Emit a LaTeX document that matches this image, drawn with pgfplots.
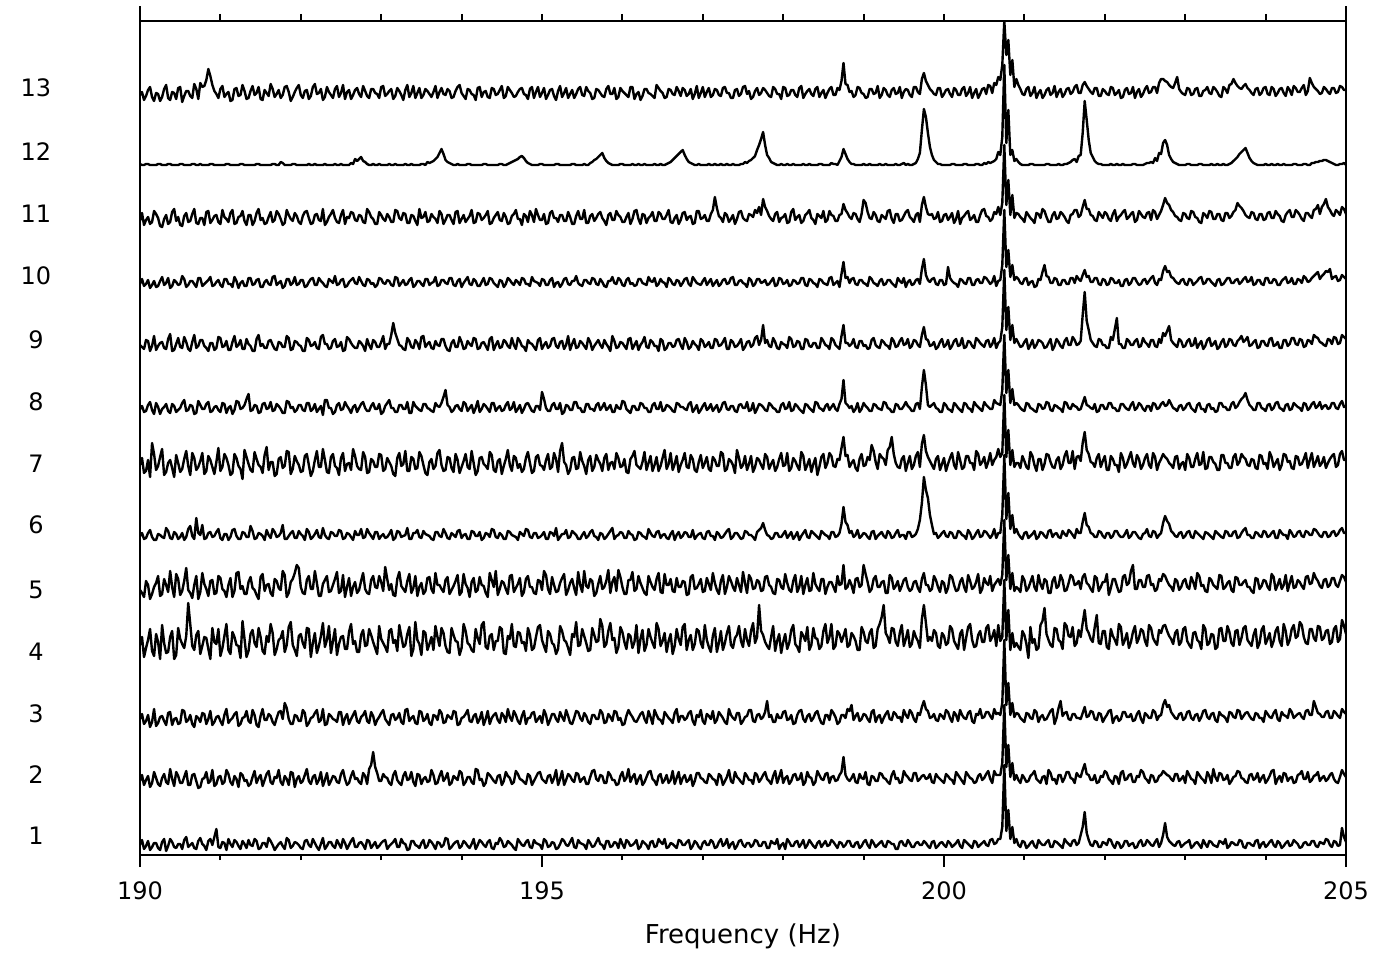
\documentclass[border=0pt]{standalone}
\usepackage{fontspec}
\setmainfont{DejaVu Sans}
\usepackage{pgfplots}
\usepackage{pgfplotstable}
\pgfplotsset{compat=1.18}

% 13 stacked spectra, heights in plot units (one trace every ~62 units)
\pgfplotstableread{
f t1 t2 t3 t4 t5 t6 t7 t8 t9 t10 t11 t12 t13
190.00 10 74 136 210 265 319 390 446 510 571 634 691 760
190.025 15 80 141 218 262 322 397 449 508 576 642 690 763
190.05 6 70 131 198 258 316 382 443 506 569 630 690 755
190.075 9 75 134 207 274 317 384 444 515 571 635 691 759
190.10 14 79 140 215 270 322 395 450 514 575 638 691 765
190.125 5 68 128 226 256 325 378 453 504 567 631 690 768
190.15 8 72 133 204 261 318 412 445 509 570 633 690 758
190.175 12 83 146 199 268 315 401 441 519 574 644 690 754
190.20 12 77 129 221 272 315 385 452 505 568 641 690 762
190.225 7 71 132 213 279 321 389 448 509 569 637 691 761
190.25 5 69 138 196 259 320 398 441 512 574 629 691 754
190.275 13 77 139 230 261 318 406 446 513 578 628 690 758
190.30 16 81 134 212 276 317 380 448 507 570 636 690 766
190.325 4 73 130 202 270 327 383 451 506 572 640 690 770
190.35 9 71 142 203 263 324 392 444 516 577 631 691 757
190.375 16 86 143 218 284 317 395 442 521 567 633 691 755
190.40 13 76 130 224 268 316 387 451 504 569 643 690 763
190.425 8 69 136 196 258 323 378 449 505 575 646 690 762
190.45 7 83 137 200 281 321 400 443 511 573 634 690 756
190.475 11 79 131 227 276 316 392 445 517 570 638 690 767
190.50 11 72 132 216 260 318 383 447 508 571 630 691 768
190.525 6 72 145 211 264 322 386 452 507 579 629 691 753
190.55 15 78 144 207 274 315 396 455 518 576 639 690 759
190.575 18 84 133 219 287 318 404 444 513 568 642 690 764
190.60 8 70 135 252 265 326 389 445 506 570 633 690 764
190.625 10 70 140 231 262 329 380 450 504 574 634 690 759
190.65 12 80 131 209 257 319 402 449 513 574 641 691 757
190.675 7 81 128 205 270 316 397 441 520 571 646 691 771
190.70 6 74 139 220 279 337 385 442 507 568 632 690 766
190.725 14 67 137 224 256 322 388 454 509 577 631 690 756
190.75 17 68 133 201 263 320 394 450 515 577 637 691 772
190.775 11 76 142 209 282 330 402 446 515 569 637 690 768
190.80 9 77 141 218 271 316 381 446 509 571 630 690 769
190.825 5 83 131 217 266 317 384 451 507 573 643 690 775
190.85 14 72 136 206 259 322 399 453 504 575 644 690 786
190.875 16 74 144 196 274 323 395 443 512 578 632 691 779
190.90 10 85 130 227 275 318 388 444 512 569 635 691 770
190.925 18 69 133 213 261 319 381 448 505 570 639 690 764
190.95 26 71 138 211 262 323 393 449 507 573 640 690 761
190.975 8 78 139 226 279 326 407 445 518 575 633 690 757
191.00 7 79 134 199 277 317 384 443 517 570 631 690 766
191.025 13 71 130 207 266 315 388 452 508 568 645 690 769
191.05 12 73 140 219 264 321 401 451 509 576 638 690 758
191.075 5 85 146 231 258 321 397 442 514 576 636 691 761
191.10 16 81 132 205 270 315 390 447 505 571 633 691 763
191.125 11 73 135 201 277 318 380 449 505 571 642 690 754
191.15 8 70 137 223 258 325 382 441 513 568 645 690 755
191.175 15 79 141 218 264 326 401 445 519 578 631 690 766
191.20 13 76 143 210 282 319 397 454 508 574 632 690 767
191.225 9 68 129 209 283 316 389 453 510 567 638 690 759
191.25 6 82 131 197 266 316 386 446 515 572 639 691 760
191.275 14 80 137 234 269 323 376 447 506 574 644 691 770
191.30 11 74 138 216 261 322 405 450 506 569 634 690 764
191.325 7 75 144 198 261 318 398 456 516 569 630 690 756
191.35 15 69 134 204 273 318 391 461 511 577 640 690 757
191.375 10 71 132 221 278 329 385 444 509 577 640 690 764
191.40 9 78 145 225 267 324 383 445 504 570 630 690 769
191.425 16 84 140 212 265 316 403 450 504 571 634 690 760
191.45 14 72 130 208 260 317 396 449 516 575 642 691 762
191.475 6 77 128 227 256 322 390 442 520 576 646 691 768
191.50 7 80 139 218 278 321 388 443 509 568 635 690 756
191.525 12 69 146 204 281 319 382 451 511 568 637 690 755
191.55 12 75 135 201 264 315 400 452 507 573 631 690 765
191.575 8 81 135 219 270 325 408 446 507 575 632 690 762
191.60 17 84 141 213 271 320 385 447 514 571 638 690 759
191.625 14 73 139 231 262 317 393 453 515 570 643 690 771
191.65 10 71 133 222 259 326 393 444 510 578 633 691 766
191.675 5 78 130 200 276 323 379 445 506 579 635 691 758
191.70 8 77 137 206 274 318 381 451 505 570 644 690 761
191.725 11 85 143 215 267 319 396 449 513 572 641 690 765
191.75 13 73 144 217 265 322 398 446 512 574 636 693 757
191.775 9 70 136 224 284 330 387 442 508 567 630 692 760
191.80 6 79 152 203 280 316 389 442 508 569 632 690 768
191.825 17 76 147 210 258 316 404 454 519 576 645 690 769
191.85 15 70 136 228 262 319 403 453 517 576 640 690 763
191.875 7 83 131 233 273 322 381 447 505 570 636 690 754
191.90 9 82 131 210 276 324 386 448 506 572 634 691 758
191.925 13 68 140 205 282 317 399 443 514 578 642 691 763
191.95 12 76 139 199 290 317 394 445 513 570 639 690 767
191.975 10 79 134 219 287 324 390 450 510 571 633 690 770
192.00 7 72 134 221 268 321 383 450 509 575 631 690 760
192.025 6 74 145 212 262 319 384 445 504 575 639 690 757
192.05 14 80 142 207 261 315 399 444 504 568 643 690 764
192.075 15 86 129 227 275 326 401 452 517 569 644 690 765
192.10 10 74 132 226 279 323 390 452 515 573 637 691 756
192.125 8 71 137 198 266 316 379 444 509 576 631 690 759
192.15 16 78 138 212 266 318 384 446 510 577 632 690 768
192.175 12 80 142 222 284 321 395 451 513 570 640 691 771
192.20 8 71 145 202 272 325 404 443 507 570 641 690 761
192.225 5 75 133 209 259 318 388 446 506 577 635 690 762
192.25 11 83 135 219 259 317 388 449 518 574 634 690 766
192.275 17 69 146 232 271 327 406 440 520 572 646 690 755
192.30 6 75 130 208 275 320 395 455 511 569 630 691 758
192.325 9 82 131 215 279 317 383 455 511 568 633 690 768
192.35 13 70 141 229 263 316 382 447 506 576 638 690 763
192.375 13 74 139 202 264 323 398 447 507 574 641 690 760
192.40 9 79 136 214 270 322 401 441 514 572 645 690 757
192.425 7 78 135 226 276 319 389 443 516 579 637 691 766
192.45 15 73 133 200 283 319 387 450 508 570 633 690 769
192.475 11 72 143 211 262 325 380 452 509 571 632 690 758
192.50 7 81 143 218 264 324 397 445 513 575 640 691 762
192.525 16 85 130 219 280 316 402 446 504 576 645 690 770
192.55 12 76 137 206 258 317 384 453 505 568 631 690 756
192.575 6 70 141 206 268 322 391 449 518 569 638 690 763
192.60 10 72 131 223 277 321 392 446 516 573 637 690 765
192.625 14 79 136 231 259 318 385 442 512 575 643 692 756
192.65 17 84 140 211 268 315 406 448 509 577 642 691 760
192.675 8 76 144 214 273 324 399 450 507 572 635 696 765
192.70 8 77 134 203 262 320 389 443 507 571 634 694 767
192.725 12 73 132 203 265 320 386 447 514 578 640 696 761
192.75 13 71 138 220 274 326 385 451 512 574 639 698 758
192.775 10 82 140 225 282 317 403 453 509 570 633 694 769
192.80 6 79 144 209 266 318 398 447 504 569 632 693 764
192.825 15 71 134 210 262 326 382 444 516 576 646 691 759
192.85 14 86 132 226 261 322 383 444 510 575 643 690 757
192.875 7 90 143 220 275 319 396 449 506 571 638 690 766
192.90 10 103 139 213 279 316 394 452 515 572 636 691 766
192.925 13 88 130 207 268 323 388 446 513 568 631 690 762
192.95 7 82 135 201 267 323 388 446 508 570 631 690 761
192.975 9 74 138 229 279 316 401 451 508 577 643 691 757
193.00 12 74 142 216 273 319 400 441 513 576 640 690 768
193.025 14 81 145 212 264 321 384 443 519 572 636 690 769
193.05 15 78 136 208 288 317 386 449 506 571 634 690 759
193.075 6 77 133 203 276 318 397 452 511 575 641 690 761
193.10 9 72 130 224 265 321 393 455 511 574 638 691 764
193.125 11 70 140 226 271 325 389 447 520 570 633 690 766
193.15 13 80 141 212 260 315 381 447 532 569 633 690 756
193.175 16 84 135 215 259 317 379 443 522 578 645 691 759
193.20 8 75 137 204 276 324 397 443 516 577 644 690 767
193.225 8 72 142 230 283 323 402 450 510 569 637 690 764
193.25 16 70 133 219 269 318 389 450 509 572 635 690 760
193.275 12 79 131 208 266 319 391 446 506 575 642 690 755
193.30 11 83 145 210 263 320 404 446 505 570 641 691 765
193.325 5 75 146 221 274 327 384 453 517 571 632 690 770
193.35 6 76 134 228 281 316 384 442 514 575 632 690 758
193.375 14 83 137 199 262 316 398 442 508 577 640 691 762
193.40 14 73 139 206 267 322 396 453 507 568 639 690 769
193.425 10 69 132 233 279 322 386 449 515 570 634 690 757
193.45 9 81 131 215 259 325 387 447 512 574 630 690 762
193.475 7 80 144 211 268 318 403 445 506 574 646 690 767
193.50 12 71 143 200 272 317 399 444 518 571 637 691 757
193.525 15 76 134 224 261 324 390 451 519 569 638 691 760
193.55 7 78 136 222 264 321 382 451 508 576 643 690 766
193.575 9 73 141 205 277 320 380 447 511 576 633 693 764
193.60 15 74 132 211 278 319 393 446 513 570 634 692 761
193.625 13 85 130 218 266 316 396 444 507 572 641 693 758
193.65 10 80 140 205 262 315 386 443 506 573 638 694 763
193.675 6 71 139 229 282 323 389 452 514 578 636 696 769
193.70 13 72 135 218 270 323 402 449 510 569 632 698 757
193.725 12 79 145 209 270 319 405 448 509 570 644 702 763
193.75 8 84 142 227 266 318 390 452 516 575 641 706 767
193.775 10 74 132 222 263 326 384 458 516 575 631 701 761
193.80 17 77 133 209 275 322 385 465 509 572 635 695 760
193.825 16 82 140 203 278 317 398 450 505 571 640 693 766
193.85 6 70 138 202 261 316 397 448 504 577 640 692 764
193.875 8 72 136 227 265 322 387 443 512 577 635 691 757
193.90 11 79 144 220 269 320 383 445 515 570 631 690 758
193.925 13 77 143 214 274 318 401 449 508 569 643 690 764
193.95 14 75 130 213 280 324 395 450 508 574 644 691 768
193.975 7 84 131 200 260 325 382 446 518 576 632 690 770
194.00 9 82 137 207 263 317 388 444 513 568 636 690 762
194.025 14 70 138 231 281 320 394 453 506 572 640 690 759
194.05 12 73 141 224 271 321 401 451 507 575 633 690 756
194.075 9 78 145 212 267 316 388 444 514 578 636 691 766
194.10 7 78 134 210 258 316 386 447 511 571 639 691 765
194.125 11 73 133 205 273 324 404 450 509 570 645 690 761
194.15 16 71 139 203 277 323 392 442 517 576 632 690 760
194.175 6 86 141 226 263 319 380 447 516 574 633 690 755
194.20 10 85 132 217 265 319 384 454 506 569 642 690 767
194.225 15 75 136 211 278 323 397 443 507 569 641 690 768
194.25 13 76 143 230 270 315 398 446 512 573 635 690 758
194.275 10 69 130 233 269 317 391 451 513 577 637 691 763
194.30 8 72 136 208 262 322 389 449 509 570 640 691 764
194.325 13 82 144 206 258 321 386 446 505 571 644 690 758
194.35 15 80 131 219 282 318 403 443 516 577 631 690 757
194.375 7 77 137 221 275 326 400 452 518 576 632 690 767
194.40 6 74 140 205 268 325 385 452 505 572 637 690 766
194.425 12 72 142 214 284 318 383 444 510 570 640 690 760
194.45 11 79 135 214 260 317 394 447 514 568 643 690 761
194.475 17 80 132 228 266 322 396 449 507 575 635 691 765
194.50 14 70 142 226 274 320 381 444 508 574 634 691 769
194.525 8 74 139 202 272 316 389 445 515 568 642 690 757
194.55 9 83 133 201 266 316 396 450 513 571 638 690 759
194.575 14 79 146 219 261 324 405 453 509 577 631 691 768
194.60 12 77 138 216 279 323 390 445 507 575 632 692 765
194.625 10 71 134 231 280 320 384 447 517 572 639 693 762
194.65 7 73 144 209 263 319 399 453 510 570 641 694 758
194.675 5 84 140 208 267 318 397 443 506 575 645 695 759
194.70 16 81 134 223 271 315 387 446 517 573 636 696 763
194.725 13 76 131 222 277 323 391 450 514 570 636 698 766
194.75 10 75 139 212 259 321 383 442 509 577 630 699 767
194.775 9 73 144 213 263 319 386 446 508 576 641 697 761
194.80 13 71 131 204 276 326 397 451 504 571 639 694 760
194.825 15 81 137 227 279 325 403 452 515 571 633 692 756
194.85 8 79 137 220 268 318 392 448 512 569 644 691 766
194.875 7 70 142 205 268 317 382 444 511 578 640 690 768
194.90 15 74 143 207 262 322 384 443 508 574 633 690 757
194.925 12 78 133 218 261 322 398 449 505 573 646 690 763
194.95 11 82 136 228 275 317 400 449 515 572 640 690 768
194.975 10 83 139 230 274 318 390 445 517 569 635 691 758
195.00 6 76 132 215 265 320 389 463 506 576 635 691 762
195.025 16 74 145 209 284 323 385 456 510 575 641 690 767
195.05 14 72 140 203 280 316 395 447 513 570 631 690 756
195.075 8 79 130 224 266 316 401 444 507 570 632 690 760
195.10 9 80 135 221 261 323 386 444 509 575 642 690 765
195.125 13 72 141 212 278 322 388 450 516 577 644 690 766
195.15 12 77 141 210 270 319 402 452 517 568 637 690 759
195.175 6 85 136 201 263 327 396 446 509 572 637 691 755
195.20 7 70 133 206 264 315 383 446 507 573 633 691 764
195.225 11 76 143 229 272 318 404 452 513 568 640 690 769
195.25 16 84 138 224 277 321 412 441 514 571 640 690 758
195.275 14 70 134 215 281 321 393 443 506 576 634 690 762
195.30 10 75 145 213 260 325 390 450 510 577 634 690 767
195.325 9 81 139 207 265 317 381 449 519 571 643 690 757
195.35 13 79 132 200 272 318 385 445 505 570 638 690 761
195.375 17 75 131 221 276 324 397 445 511 574 631 691 765
195.40 8 73 137 218 267 322 398 453 516 574 631 691 757
195.425 7 82 144 233 260 320 386 453 507 579 639 690 761
195.45 15 81 143 209 283 316 387 447 508 572 644 690 766
195.475 12 73 137 210 270 316 403 447 514 570 636 690 768
195.50 11 76 134 226 263 320 394 443 512 569 636 690 760
195.525 10 78 142 219 284 323 389 443 509 575 645 691 759
195.55 6 71 139 212 269 317 381 451 506 575 632 690 768
195.575 15 71 133 204 267 319 395 451 517 572 632 690 764
195.60 12 78 131 205 276 323 399 446 513 571 639 692 762
195.625 8 84 140 227 274 325 384 446 505 577 641 693 756
195.65 9 85 140 220 259 319 388 444 509 576 634 695 757
195.675 13 76 136 213 262 318 400 450 512 571 637 696 766
195.70 17 74 136 214 271 315 395 452 515 570 641 698 765
195.725 11 80 145 236 279 322 391 445 510 576 643 700 762
195.75 10 79 142 229 266 321 384 448 507 573 637 702 759
195.775 6 72 132 208 268 316 397 452 515 569 634 697 758
195.80 14 72 133 211 274 318 401 445 511 568 630 694 766
195.825 14 83 141 224 285 321 385 447 508 574 640 692 769
195.85 8 80 138 232 262 324 392 450 504 574 642 691 761
195.875 9 75 134 215 273 327 393 443 519 578 635 690 761
195.90 13 75 144 217 278 316 386 443 514 572 635 690 767
195.925 12 70 143 202 264 319 402 450 507 571 644 690 756
195.95 7 71 135 208 285 320 397 447 508 577 640 690 758
195.975 16 79 137 228 278 323 388 446 513 575 638 691 767
196.00 11 83 130 223 268 322 389 454 512 570 633 691 764
196.025 7 74 131 213 261 317 396 453 509 569 633 690 762
196.05 15 77 139 206 261 317 383 446 506 575 638 690 760
196.075 13 86 145 221 275 324 382 444 516 577 642 690 758
196.10 9 73 141 219 275 321 396 442 517 571 631 690 768
196.125 10 78 138 207 283 320 399 449 506 572 636 691 768
196.15 12 81 134 213 264 315 404 449 510 569 644 690 756
196.175 15 71 133 230 266 316 390 445 514 570 645 690 761
196.20 6 76 137 202 279 323 388 445 505 576 636 691 763
196.225 8 80 141 216 272 322 386 452 510 576 631 690 755
196.25 14 70 143 225 267 319 393 451 513 572 641 690 759
196.275 12 73 136 204 262 318 403 447 518 571 640 691 766
196.30 10 78 132 210 260 316 385 447 508 570 632 690 766
196.325 6 83 144 226 279 326 392 443 507 578 637 690 762
196.35 13 84 138 218 273 322 399 443 515 574 639 690 761
196.375 14 76 131 212 268 319 384 450 513 573 643 690 759
196.40 8 74 145 207 265 318 390 452 509 577 634 691 757
196.425 9 70 140 232 276 323 398 446 509 569 634 690 770
196.45 16 79 136 226 282 324 384 446 504 571 643 690 767
196.475 13 81 135 209 263 317 389 453 516 576 641 691 764
196.50 11 72 131 214 262 320 397 444 514 573 636 690 762
196.525 16 75 143 222 281 321 405 445 505 572 636 690 757
196.55 7 80 140 203 270 317 386 450 507 568 640 691 758
196.575 8 72 137 214 270 316 391 449 512 577 645 692 766
196.60 12 75 135 221 276 321 402 447 512 575 633 693 765
196.625 11 84 132 201 264 324 385 444 508 571 632 695 761
196.65 9 71 142 209 263 315 391 443 509 570 637 697 760
196.675 7 77 146 226 277 320 399 452 515 575 640 699 768
196.70 15 83 133 216 268 323 383 451 516 574 631 701 764
196.725 14 71 139 210 268 317 390 448 510 569 635 703 759
196.75 10 77 139 228 274 319 395 448 506 572 642 705 767
196.775 10 80 135 231 273 323 402 446 517 576 643 700 765
196.80 13 73 137 205 260 322 388 445 513 577 635 696 759
196.825 15 75 142 215 261 318 387 451 506 571 638 693 761
196.85 6 80 144 220 278 318 400 453 508 569 639 692 766
196.875 9 69 134 205 280 325 396 443 514 578 631 691 756
196.90 14 74 130 211 266 316 385 446 511 575 632 690 761
196.925 12 82 140 226 267 319 383 450 509 572 644 690 769
196.95 8 82 138 224 271 321 393 442 505 571 644 691 757
196.975 6 77 145 212 276 322 400 445 516 570 636 690 762
197.00 12 76 134 207 263 317 387 449 514 574 637 690 768
197.025 14 73 131 230 264 316 392 452 508 577 640 690 758
197.05 10 72 141 215 277 323 398 445 510 570 634 690 763
197.075 10 81 139 208 271 324 386 447 513 573 634 691 767
197.10 15 79 136 203 265 319 384 451 507 576 641 690 758
197.125 13 76 144 219 282 319 398 444 507 569 645 690 760
197.15 7 75 132 227 272 315 395 447 516 572 658 691 766
197.175 8 70 135 203 265 323 389 450 515 575 647 690 765
197.20 13 81 143 212 261 321 389 443 509 569 639 690 760
197.225 16 79 140 224 274 317 403 446 510 571 637 691 759
197.25 9 70 137 205 280 318 401 452 513 575 633 690 767
197.275 11 74 133 212 261 321 384 453 517 576 642 690 768
197.30 16 78 131 222 268 324 386 446 506 571 640 691 762
197.325 7 85 146 229 279 326 396 445 506 572 633 690 762
197.35 11 74 140 210 274 316 394 449 515 577 636 690 757
197.375 13 72 137 207 268 318 390 449 513 578 640 691 757
197.40 6 83 135 217 264 322 382 444 508 570 631 690 765
197.425 9 78 142 220 277 322 405 443 509 570 636 690 766
197.45 14 76 142 229 270 319 397 450 512 574 643 690 759
197.475 15 73 131 214 263 316 387 451 516 575 644 691 761
197.50 10 71 134 208 283 317 390 447 505 572 637 691 768
197.525 8 82 138 226 272 324 399 447 508 571 635 693 769
197.55 12 79 139 215 262 323 385 453 513 568 634 692 761
197.575 12 75 145 209 280 320 391 444 514 577 641 694 764
197.60 8 75 145 224 276 320 399 445 508 575 640 695 756
197.625 10 71 134 232 266 318 383 452 510 569 638 697 758
197.65 15 82 133 212 267 315 388 442 517 571 645 699 764
197.675 14 80 140 218 275 323 397 446 519 576 642 705 767
197.70 9 73 141 250 273 325 395 451 510 576 648 710 760
197.725 9 76 136 224 264 327 390 450 515 572 640 716 762
197.75 13 80 138 220 265 332 386 448 530 573 656 723 767
197.775 13 83 143 213 278 325 401 445 512 575 648 710 765
197.80 7 76 154 209 279 320 398 444 515 570 644 700 762
197.825 7 74 138 206 270 319 386 452 509 571 639 697 759
197.85 14 71 140 218 268 316 391 450 508 574 636 693 758
197.875 12 79 133 229 262 317 395 447 517 577 634 692 768
197.90 11 84 133 204 261 322 384 446 513 569 641 691 766
197.925 16 72 141 214 276 322 388 443 507 570 643 690 761
197.95 6 78 137 221 275 318 396 443 506 577 633 690 761
197.975 10 85 137 202 268 318 402 450 513 576 637 691 756
198.00 12 72 143 213 266 321 389 452 511 571 638 690 768
198.025 6 77 144 221 281 324 390 446 510 572 641 690 767
198.05 16 79 135 206 272 317 402 447 507 575 632 691 759
198.075 13 71 136 212 265 320 384 453 518 569 633 690 760
198.10 9 74 140 225 263 323 387 444 516 570 643 690 765
198.125 9 80 131 230 274 316 397 445 508 575 646 691 765
198.15 13 81 132 211 280 319 394 451 509 574 635 690 760
198.175 14 75 140 208 263 323 389 449 514 571 638 690 758
198.20 8 76 144 203 268 315 385 446 513 572 640 690 767
198.225 11 82 145 223 279 319 403 444 506 577 632 690 769
198.25 15 70 136 219 261 322 399 442 506 577 634 691 757
198.275 7 73 133 214 270 325 385 451 516 570 640 690 761
198.30 10 83 139 228 277 318 390 450 515 569 642 690 764
198.325 15 78 141 205 264 317 396 447 509 576 645 691 766
198.35 12 77 134 210 265 324 383 445 508 575 637 690 761
198.375 9 70 137 227 282 322 391 443 512 572 635 690 759
198.40 7 73 142 217 271 320 397 453 512 571 631 690 766
198.425 12 84 144 216 267 318 380 452 507 568 641 690 768
198.45 14 80 137 206 264 316 388 447 507 576 639 691 758
198.475 8 76 132 209 276 324 398 446 517 575 637 691 762
198.50 11 75 131 224 276 322 401 444 514 572 644 690 765
198.525 14 81 140 231 261 320 387 449 510 571 633 690 757
198.55 9 82 140 212 268 319 392 451 509 570 635 690 762
198.575 10 72 135 218 273 316 402 445 506 577 644 690 766
198.60 15 78 145 231 273 323 399 448 517 578 640 692 768
198.625 13 79 142 206 268 323 389 451 515 570 639 691 760
198.65 10 74 138 209 263 318 388 446 510 572 634 691 760
198.675 7 75 131 224 279 319 396 444 508 574 634 690 767
198.70 13 80 133 221 270 322 395 451 506 568 640 694 765
198.725 12 83 140 213 271 331 407 456 519 581 641 698 774
198.75 8 98 140 219 290 348 418 475 530 593 651 706 792
198.775 10 80 137 226 266 333 399 452 512 577 645 701 771
198.80 14 76 146 208 268 330 400 450 512 578 642 696 770
198.825 14 74 144 210 275 322 388 447 509 572 638 693 763
198.85 9 77 150 222 270 324 392 449 511 576 636 691 764
198.875 8 81 135 219 262 318 395 443 516 577 642 691 758
198.90 12 73 139 214 276 320 387 446 508 571 641 690 760
198.925 13 72 142 205 277 325 384 452 507 570 636 690 768
198.95 7 81 134 205 268 317 396 443 514 575 633 690 767
198.975 9 77 136 228 270 319 401 446 514 575 641 690 762
199.00 13 76 141 223 290 322 389 452 509 572 655 691 761
199.025 15 83 140 214 281 321 390 449 510 571 652 690 757
199.05 10 71 136 212 273 318 398 447 506 569 643 690 758
199.075 7 70 133 222 263 316 395 444 507 578 637 691 766
199.10 15 79 143 226 266 323 410 444 515 576 636 690 766
199.125 12 78 145 207 276 324 404 451 517 572 643 690 761
199.15 8 74 133 209 279 316 393 450 510 571 640 690 762
199.175 10 74 138 226 268 319 386 447 508 569 634 690 769
199.20 12 82 140 231 268 321 401 446 507 574 633 691 757
199.225 14 81 132 238 273 323 398 445 515 576 640 690 760
199.25 9 77 137 250 274 319 396 453 513 570 638 690 767
199.275 8 76 141 222 262 317 390 452 510 571 636 691 765
199.30 14 73 144 218 262 324 405 447 509 575 644 690 760
199.325 13 71 136 212 280 322 408 446 506 575 645 690 758
199.35 11 80 135 227 277 317 418 443 517 572 636 690 765
199.375 11 84 143 226 266 318 401 443 514 570 632 690 767
199.40 6 76 141 213 269 322 392 451 508 568 641 691 761
199.425 6 77 137 209 274 325 388 450 509 577 641 690 762
199.45 13 72 138 222 264 318 387 446 514 574 634 690 768
199.475 14 73 133 230 269 320 396 446 517 572 635 691 757
199.50 10 84 145 209 275 320 399 449 510 577 639 692 763
199.525 9 80 140 216 277 316 384 453 511 568 643 690 766
199.55 15 78 137 225 268 323 392 449 516 573 645 691 765
199.575 12 75 145 208 264 323 399 447 507 575 638 690 760
199.60 8 74 142 211 266 318 386 444 509 570 636 690 758
199.625 8 82 136 224 273 319 390 444 515 571 633 691 768
199.65 12 82 133 218 274 321 399 451 514 575 640 692 768
199.675 13 74 142 214 267 326 403 452 510 576 642 696 763
199.70 10 76 140 207 263 335 388 446 508 571 633 702 761
199.725 10 79 148 236 276 352 411 468 520 586 650 725 776
199.75 14 80 154 250 282 378 420 485 528 596 658 746 782
199.775 12 76 146 232 270 365 404 470 516 580 648 738 774
199.80 9 77 144 214 270 357 398 450 515 575 641 722 770
199.825 7 81 137 218 264 340 394 448 509 573 640 708 766
199.85 13 73 138 214 266 330 390 450 510 576 641 700 764
199.875 14 72 141 225 279 321 386 452 513 577 636 695 761
199.90 7 81 135 222 275 322 396 447 506 571 637 693 760
199.925 9 78 134 209 268 317 399 446 508 570 643 691 767
199.95 12 76 141 207 263 319 385 443 513 575 633 691 767
199.975 13 74 139 222 274 322 391 443 516 575 634 690 758
200.00 10 72 136 219 272 324 397 452 508 570 640 690 761
200.025 8 81 145 210 262 319 384 450 510 571 641 690 765
200.05 14 79 143 212 267 318 391 446 515 588 635 690 766
200.075 12 76 137 229 280 323 397 445 506 577 638 690 761
200.10 8 75 133 226 278 322 402 443 509 574 642 691 758
200.125 10 71 143 214 270 317 390 452 514 572 632 691 767
200.15 12 83 140 210 264 317 386 450 516 571 636 690 765
200.175 15 80 134 206 265 324 403 447 509 568 644 690 760
200.20 9 77 145 221 273 323 395 445 510 576 631 690 760
200.225 7 74 140 225 277 320 386 443 517 575 637 690 766
200.25 15 71 137 205 268 319 388 452 507 572 639 691 768
200.275 13 83 136 217 263 316 399 451 508 571 642 691 759
200.30 11 80 142 228 280 325 399 447 514 577 644 690 762
200.325 9 77 144 231 274 322 392 446 513 577 635 690 768
200.35 7 76 134 215 266 316 392 443 509 570 637 690 757
200.375 14 72 132 208 268 318 385 453 507 570 640 690 762
200.40 13 73 141 209 273 322 404 450 517 575 633 691 766
200.425 8 79 140 220 281 325 401 448 515 576 633 691 757
200.45 10 81 146 224 262 318 390 446 512 572 640 690 761
200.475 12 75 137 213 266 319 393 444 510 572 645 690 766
200.50 14 77 138 213 277 324 398 453 508 578 646 692 767
200.525 10 81 143 227 272 323 387 450 514 577 639 691 761
200.55 9 84 143 230 270 320 393 448 515 574 638 693 770
200.575 15 76 139 214 279 317 402 446 508 571 634 692 769
200.60 16 72 136 218 264 320 390 446 511 573 636 693 762
200.625 11 84 146 225 270 326 395 455 517 579 643 694 772
200.65 12 80 141 209 273 317 398 452 507 569 641 696 770
200.675 16 80 142 230 276 322 406 451 512 574 648 703 778
200.70 16 80 140 214 270 322 398 450 514 575 640 700 775
200.725 28 92 152 218 280 340 402 465 528 590 652 718 790
200.75 90 150 215 275 335 400 460 520 585 645 710 790 834
200.775 24 88 150 215 275 336 398 462 525 588 650 712 800
200.80 45 110 172 245 300 362 425 485 548 605 675 745 815
200.825 16 78 140 205 266 326 390 452 515 578 640 700 780
200.85 28 92 152 222 282 340 405 466 530 590 660 705 795
200.875 12 75 138 208 264 322 388 450 512 575 637 694 768
200.90 16 80 142 212 268 326 392 452 516 578 642 696 776
200.925 10 75 141 208 266 321 392 450 512 576 641 693 770
200.95 8 72 137 205 263 318 387 447 508 572 638 691 766
200.975 14 80 135 224 279 316 399 445 509 571 636 690 761
201.00 13 77 133 220 275 322 394 444 513 576 633 690 760
201.025 7 73 142 211 264 323 388 452 516 577 643 690 766
201.05 9 74 141 197 267 317 386 451 506 570 640 690 768
201.075 12 79 137 228 273 319 403 447 510 573 637 691 759
201.10 14 81 136 212 279 321 399 446 515 574 635 691 762
201.125 9 84 145 216 268 324 390 444 507 568 632 690 768
201.15 7 76 143 205 264 316 384 443 510 569 642 690 757
201.175 15 74 133 207 280 318 396 451 515 576 641 690 762
201.20 12 72 138 230 271 323 396 450 514 575 637 690 765
201.225 10 78 140 234 266 322 385 446 512 583 646 690 757
201.25 10 79 135 247 276 319 391 447 507 590 644 690 760
201.275 13 71 136 221 274 317 401 453 508 579 638 691 765
201.30 15 85 140 215 262 324 400 452 512 578 633 691 767
201.325 8 82 144 210 262 325 393 445 516 572 633 690 760
201.35 8 75 146 208 274 318 388 444 505 572 640 690 762
201.375 14 76 131 227 278 321 387 450 509 577 643 690 769
201.40 13 71 137 226 267 322 395 449 516 576 636 690 758
201.425 11 80 147 215 269 318 398 447 513 570 637 691 763
201.45 9 80 154 213 280 317 386 446 509 570 643 690 766
201.475 7 73 139 206 275 324 390 443 507 575 641 690 758
201.50 16 77 142 232 264 321 399 453 514 575 638 691 761
201.525 13 83 143 229 265 319 404 452 517 571 634 691 766
201.55 11 83 136 219 272 325 392 447 510 571 632 692 767
201.575 9 77 135 218 280 323 392 446 510 577 640 693 761
201.60 14 76 141 228 278 320 404 451 518 577 641 695 763
201.625 15 72 141 209 270 317 386 449 515 572 645 696 768
201.65 10 82 137 212 271 326 398 448 510 579 645 693 770
201.675 12 79 137 225 274 322 399 445 511 576 638 699 762
201.70 20 78 136 218 266 322 394 446 514 574 640 700 762
201.725 28 85 142 232 278 333 412 452 540 580 648 722 770
201.75 43 91 148 245 281 342 423 458 563 585 655 754 773
201.775 22 81 138 226 272 330 405 450 534 578 646 735 769
201.80 15 80 139 222 270 328 401 449 525 579 646 715 766
201.825 10 75 144 216 266 322 393 447 515 573 640 702 763
201.85 9 75 143 213 263 321 392 446 512 573 639 698 761
201.875 14 80 136 228 279 318 388 451 509 577 635 694 767
201.90 13 72 135 240 277 318 397 443 508 577 634 692 767
201.925 8 73 142 212 264 324 401 444 516 571 643 691 759
201.95 8 79 141 211 268 323 388 450 515 570 640 691 759
201.975 13 78 133 224 273 319 394 450 510 576 637 690 766
202.00 12 84 137 224 273 317 399 446 510 575 643 690 764
202.025 10 82 140 208 281 322 385 446 507 570 641 690 761
202.05 16 76 144 206 260 322 385 452 507 571 636 690 760
202.075 15 74 145 226 267 317 399 452 518 577 634 691 768
202.10 10 71 132 219 276 319 396 447 515 576 641 690 767
202.125 7 79 137 215 276 324 390 447 526 572 645 690 760
202.15 13 78 139 210 269 324 390 444 537 572 634 691 762
202.175 12 71 134 231 263 320 383 444 511 575 638 690 765
202.20 7 82 136 228 264 318 402 451 511 569 640 690 757
202.225 9 84 143 210 278 318 397 451 507 569 643 691 758
202.25 14 75 143 215 280 321 387 448 507 575 645 690 765
202.275 14 76 138 222 270 325 391 446 516 576 636 690 767
202.30 9 80 138 207 272 317 397 445 514 570 638 690 761
202.325 11 81 141 213 284 319 403 450 510 572 641 690 762
202.35 12 73 134 223 290 323 392 453 510 577 643 691 768
202.375 7 73 135 229 266 323 388 445 514 577 633 691 757
202.40 8 79 141 212 266 320 400 447 516 573 635 690 763
202.425 13 78 144 217 275 317 396 452 508 570 644 690 766
202.45 15 85 136 226 275 316 386 450 509 571 641 690 758
202.475 9 83 132 224 268 321 390 446 517 575 638 690 761
202.50 10 77 142 214 268 322 397 444 513 576 637 691 766
202.525 15 75 140 209 279 326 401 449 511 571 642 692 769
202.55 13 72 137 230 280 319 390 449 508 574 643 692 762
202.575 10 80 137 227 270 318 387 444 515 577 635 693 763
202.60 9 79 145 217 271 324 402 452 515 579 645 692 768
202.625 13 73 143 213 264 323 398 451 509 572 643 697 768
202.65 16 74 135 210 266 317 385 446 508 570 636 694 762
202.675 8 79 139 225 276 320 392 447 516 576 640 702 772
202.70 12 80 140 222 274 322 396 451 512 575 644 701 776
202.725 20 84 150 229 281 332 401 453 522 584 650 712 776
202.75 32 82 155 230 279 339 398 449 519 589 657 715 774
202.775 18 80 148 224 274 334 396 450 524 583 652 710 773
202.80 14 79 150 219 270 331 392 455 529 584 650 700 770
202.825 12 76 143 216 268 324 390 451 515 578 645 696 768
202.85 10 74 140 211 264 322 387 447 512 577 643 693 767
202.875 9 81 137 222 276 319 398 446 510 574 639 692 772
202.90 13 81 136 225 274 318 399 444 508 572 638 691 778
202.925 14 74 141 210 265 322 386 449 516 571 635 690 766
202.95 8 76 142 213 268 323 391 450 514 575 634 690 763
202.975 10 79 135 226 274 317 393 445 508 576 642 690 761
203.00 12 72 137 228 276 319 385 447 509 571 641 690 760
203.025 13 84 143 214 268 323 401 451 514 570 637 691 767
203.05 15 80 144 210 266 324 397 452 516 576 636 691 766
203.075 7 76 137 207 278 318 388 447 509 575 644 690 760
203.10 9 75 135 222 273 317 388 445 510 570 643 690 761
203.125 12 71 140 223 266 324 396 443 517 572 638 690 766
203.15 13 83 141 215 282 322 402 450 507 574 637 690 767
203.175 10 80 134 213 279 320 390 452 511 577 633 691 759
203.20 7 77 138 206 269 318 391 446 514 578 632 691 759
203.225 15 75 144 230 270 316 403 446 506 571 642 690 764
203.25 11 72 145 226 264 323 386 443 509 572 640 690 765
203.275 8 83 138 210 263 322 387 450 515 576 637 690 768
203.30 14 79 136 212 277 320 398 451 517 576 644 690 762
203.325 13 72 141 221 275 318 398 446 509 573 643 691 761
203.35 10 86 142 220 270 316 393 447 511 571 636 690 768
203.375 9 78 135 206 268 324 391 443 514 569 636 690 766
203.40 8 74 133 208 266 322 385 444 506 575 641 691 763
203.425 14 82 143 226 280 320 385 452 508 576 641 690 759
203.45 13 81 140 227 279 318 400 452 513 570 635 690 758
203.475 11 75 139 214 266 317 400 448 516 571 634 691 768
203.50 16 76 137 214 268 324 392 448 508 574 642 690 766
203.525 7 80 133 229 272 323 392 445 510 577 642 690 762
203.55 9 71 143 223 274 319 387 445 516 577 637 691 770
203.575 13 74 142 212 265 319 387 451 515 572 639 692 771
203.60 12 78 138 209 263 323 398 453 510 572 643 694 776
203.625 10 79 137 224 278 324 401 447 509 575 645 696 772
203.65 10 84 145 225 277 317 390 449 514 576 652 698 769
203.675 15 83 144 210 270 318 393 453 516 571 649 701 767
203.70 14 77 136 217 270 322 401 456 519 573 647 703 766
203.725 8 76 139 227 273 325 398 458 513 576 644 705 769
203.75 7 73 142 229 275 327 396 462 515 578 640 707 771
203.775 12 72 143 215 268 320 390 455 518 573 638 702 767
203.80 12 80 139 212 268 320 389 450 509 574 637 697 765
203.825 10 81 136 209 264 317 396 448 510 578 643 694 762
203.85 9 75 135 220 262 317 395 445 513 570 642 692 760
203.875 14 77 142 226 277 323 387 445 515 571 636 691 766
203.90 15 82 141 207 276 322 386 452 507 575 635 690 767
203.925 7 73 137 212 266 319 400 452 508 575 641 690 760
203.95 11 77 137 225 269 318 399 447 514 571 641 690 762
203.975 13 80 133 229 275 324 391 446 514 570 635 690 767
204.00 8 72 144 211 274 323 392 444 510 577 636 691 768
204.025 10 75 141 216 268 318 386 450 509 577 642 690 761
204.05 13 79 138 222 265 319 403 451 516 572 643 690 760
204.075 15 84 137 208 281 322 398 445 517 572 637 691 768
204.10 10 85 142 214 278 324 388 447 509 576 637 690 766
204.125 8 71 145 224 265 317 392 452 510 575 644 690 759
204.15 14 76 136 228 270 317 396 453 513 570 641 691 762
204.175 12 79 134 214 276 325 385 447 507 570 639 690 766
204.20 7 73 143 209 266 322 390 446 507 574 634 690 767
204.225 9 82 140 231 270 320 401 444 515 576 633 691 762
204.25 12 81 139 224 280 320 400 450 515 578 640 690 759
204.275 14 74 137 210 264 316 393 451 509 572 643 690 768
204.30 9 77 146 215 272 325 394 445 511 573 645 690 765
204.325 10 78 143 226 279 322 387 446 517 577 638 690 760
204.35 15 72 137 230 267 318 386 452 517 571 638 691 769
204.375 13 73 139 217 268 319 399 450 511 571 645 691 767
204.40 11 80 141 219 275 323 398 448 510 576 643 690 763
204.425 7 81 142 233 273 324 390 447 516 575 640 690 763
204.45 8 84 138 230 269 319 391 444 515 572 636 690 767
204.475 12 76 136 218 266 318 396 452 508 579 634 691 770
204.50 13 76 144 212 278 324 402 451 509 577 642 691 760
204.525 10 83 145 211 279 323 387 445 515 573 642 690 764
204.55 10 73 140 226 271 320 395 447 514 574 639 690 777
204.575 14 75 140 226 272 320 402 451 511 577 637 692 772
204.60 14 79 154 217 282 326 388 453 520 579 645 692 768
204.625 9 80 148 214 277 325 393 447 518 581 646 693 766
204.65 8 83 142 229 274 322 399 449 517 583 650 693 764
204.675 13 74 141 228 269 319 389 453 513 576 641 694 761
204.70 12 77 138 215 267 318 392 446 512 579 648 694 762
204.725 11 79 138 217 275 323 398 449 510 581 651 695 768
204.75 16 74 143 224 276 323 387 450 509 584 656 695 766
204.775 15 76 144 225 268 318 392 446 516 583 648 694 763
204.80 10 80 137 211 270 319 396 447 515 586 645 693 761
204.825 8 82 137 213 277 323 399 452 511 576 641 692 767
204.85 14 76 144 226 277 324 401 452 518 578 639 691 767
204.875 13 73 142 229 270 319 388 447 517 579 645 690 762
204.90 9 72 139 213 268 321 390 446 511 574 643 690 763
204.925 10 78 137 216 274 325 401 451 512 575 640 691 769
204.95 27 85 146 235 280 327 404 454 520 580 648 691 768
204.975 18 81 143 229 278 322 395 448 518 578 646 692 765
205.00 13 78 141 221 273 322 395 449 516 576 641 690 765
}\spectra

\begin{document}
\begin{tikzpicture}
\path[use as bounding box] (-70pt,-50pt) rectangle (618.5pt,427.5pt);
% ticks of the top frame line
\begin{axis}[
    at={(0,0)}, anchor=south west,
    scale only axis, width=603pt, height=417pt,
    xmin=190, xmax=205, ymin=0, ymax=1,
    hide y axis,
    xtick pos=right,
    xtick={191,...,204}, xticklabels={},
    tick align=outside, major tick length=3.5pt,
    every tick/.style={black, line width=1pt},
    axis line style={line width=1.2pt},
]
\end{axis}
\begin{axis}[
    name=main,
    at={(0,0)}, anchor=south west,
    scale only axis, width=603pt, height=417pt,
    xmin=190, xmax=205, ymin=0, ymax=834,
    axis line style={line width=1.2pt},
    xtick={190,195,200,205},
    minor xtick={191,...,204},
    xtick pos=left,
    tick align=outside,
    major tick length=6pt, minor tick length=2.5pt,
    every tick/.style={black, line width=1pt},
    ytick={19,80,141,203,265,330,391,453,515,579,641,703,767},
    yticklabels={1,2,3,4,5,6,7,8,9,10,11,12,13},
    ytick pos=left,
    ytick style={draw=none},
    yticklabel style={anchor=center, xshift=-46pt},
    tick label style={font=\fontsize{12}{14}\selectfont},
    xticklabel style={yshift=-4pt},
    /pgf/number format/assume math mode=true,
    xlabel={Frequency (Hz)},
    xlabel style={font=\fontsize{13}{15}\selectfont, at={(axis description cs:0.5,0)}, anchor=north, yshift=-31pt},
]
\pgfplotsinvokeforeach{1,...,13}{
  \addplot[black, line width=1.2pt, line join=round, mark=none] table[x=f, y=t#1] {\spectra};
}
\end{axis}
\draw[line width=1.2pt] (main.north west) -- ++(0,7.5pt);
\draw[line width=1.2pt] (main.north east) -- ++(0,7.5pt);
\end{tikzpicture}
\end{document}
